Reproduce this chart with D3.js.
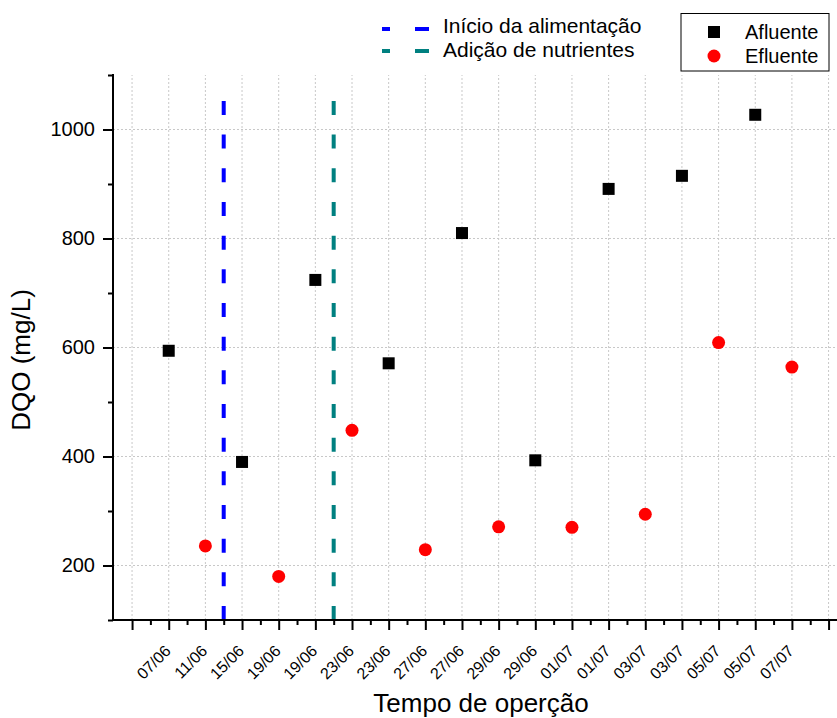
<!DOCTYPE html>
<html>
<head>
<meta charset="utf-8">
<script src="https://cdnjs.cloudflare.com/ajax/libs/d3/7.8.5/d3.min.js"></script>
<style>
  html, body { margin: 0; padding: 0; background: #fff; }
  svg { display: block; font-family: "Liberation Sans", Arial, sans-serif; }
</style>
</head>
<body>
<svg id="chart" width="837" height="718"></svg>
<script>
// ---- Data ----
const tickLabels = ["07/06","11/06","15/06","19/06","19/06","23/06","23/06","27/06","27/06",
                    "29/06","29/06","01/07","01/07","03/07","03/07","05/07","05/07","07/07"];
// positions on the x axis (tick index; labels start at index 1)
const afluenteX = [1, 3, 5, 7, 9, 11, 13, 15, 17];
const afluenteY = [594, 390, 724, 571, 810, 393, 891, 915, 1027];
const efluenteX = [2, 4, 6, 8, 10, 12, 14, 16, 18];
const efluenteY = [236, 180, 448, 229, 271, 270, 294, 609, 564];
const eventNames = ["Início da alimentação", "Adição de nutrientes"];
const eventX = [2.5, 5.5];
const eventTop = [1053, 1056];
const eventColors = ["#0000ff", "#008080"];
const yMajorTicks = [200, 400, 600, 800, 1000];
const yMinorTicks = [100, 300, 500, 700, 900, 1100];
const xMajorTicks = d3.range(0, 20);
const xMinorTicks = d3.range(0, 20).map(d => d + 0.5);

// ---- Scales ----
const svg = d3.select("#chart");
const x = d3.scaleLinear().domain([-0.52, 19.23]).range([113, 837]);
const y = d3.scaleLinear().domain([100, 1100]).range([620, 75]);
const FONT = '"Liberation Sans", Arial, sans-serif';

// ---- Grid ----
const grid = svg.append("g");
grid.selectAll("line.gx").data(xMajorTicks).join("line")
  .attr("x1", d => x(d)).attr("x2", d => x(d))
  .attr("y1", y(100)).attr("y2", y(1100))
  .attr("stroke", "#c8c8c8").attr("stroke-width", 1).attr("stroke-dasharray", "2,2");
grid.selectAll("line.gy").data(yMajorTicks).join("line")
  .attr("x1", x(-0.52)).attr("x2", 837)
  .attr("y1", d => y(d)).attr("y2", d => y(d))
  .attr("stroke", "#c8c8c8").attr("stroke-width", 1).attr("stroke-dasharray", "2,2");

// ---- Event lines ----
svg.selectAll("line.ev").data(eventX).join("line")
  .attr("x1", d => x(d)).attr("x2", d => x(d))
  .attr("y1", y(100)).attr("y2", (d, i) => y(eventTop[i]))
  .attr("stroke", (d, i) => eventColors[i]).attr("stroke-width", 4)
  .attr("stroke-dasharray", "14,19.67");

// ---- Axes ----
const xAxisMajor = d3.axisBottom(x).tickValues(xMajorTicks).tickSize(10).tickFormat("");
const xAxisMinor = d3.axisBottom(x).tickValues(xMinorTicks).tickSize(5).tickFormat("");
const gx = svg.append("g").attr("transform", `translate(0,${y(100)})`);
gx.append("g").call(xAxisMinor);
gx.append("g").call(xAxisMajor);
gx.selectAll(".domain").remove();
gx.selectAll("line").attr("stroke", "#000").attr("stroke-width", 2);
svg.append("line").attr("x1", x(-0.52) - 1).attr("x2", 837).attr("y1", y(100)).attr("y2", y(100))
  .attr("stroke", "#000").attr("stroke-width", 2);

// x tick labels
svg.append("g").selectAll("text").data(tickLabels).join("text")
  .attr("transform", (d, i) => `translate(${x(i + 1) + 3},${652}) rotate(-45)`)
  .attr("text-anchor", "end")
  .attr("font-family", FONT).attr("font-size", 16).attr("fill", "#000")
  .text(d => d);

const yAxisMajor = d3.axisLeft(y).tickValues(yMajorTicks).tickSize(10).tickPadding(8).tickFormat(d3.format("d"));
const yAxisMinor = d3.axisLeft(y).tickValues(yMinorTicks).tickSize(5).tickFormat("");
const gy = svg.append("g").attr("transform", `translate(${x(-0.52)},0)`);
gy.append("g").call(yAxisMinor);
gy.append("g").call(yAxisMajor);
gy.selectAll(".domain").remove();
gy.selectAll("line").attr("stroke", "#000").attr("stroke-width", 2);
gy.selectAll("text").attr("font-family", FONT).attr("font-size", 20).attr("fill", "#000");
svg.append("line").attr("x1", x(-0.52)).attr("x2", x(-0.52)).attr("y1", y(1100) - 1).attr("y2", y(100) + 1)
  .attr("stroke", "#000").attr("stroke-width", 2);

// ---- Points ----
svg.append("g").selectAll("rect").data(afluenteX).join("rect")
  .attr("x", d => x(d) - 6).attr("y", (d, i) => y(afluenteY[i]) - 6)
  .attr("width", 12).attr("height", 12).attr("fill", "#000");
svg.append("g").selectAll("circle").data(efluenteX).join("circle")
  .attr("cx", d => x(d)).attr("cy", (d, i) => y(efluenteY[i]))
  .attr("r", 6.5).attr("fill", "#ff0000");

// ---- Axis titles ----
svg.append("text").attr("x", 481).attr("y", 712).attr("text-anchor", "middle")
  .attr("font-family", FONT).attr("font-size", 26).text("Tempo de operção");
svg.append("text").attr("transform", "translate(30,360) rotate(-90)").attr("text-anchor", "middle")
  .attr("font-family", FONT).attr("font-size", 26).text("DQO (mg/L)");

// ---- Legend: event lines ----
const lg1 = svg.append("g");
const lgRows = [29, 51];
eventNames.forEach((name, i) => {
  lg1.append("line").attr("x1", 382).attr("x2", 429).attr("y1", lgRows[i]).attr("y2", lgRows[i])
    .attr("stroke", eventColors[i]).attr("stroke-width", 4).attr("stroke-dasharray", "8,25,14,100");
  lg1.append("text").attr("x", 443).attr("y", lgRows[i] + 4 + i * 2)
    .attr("font-family", FONT).attr("font-size", 21).text(name);
});

// ---- Legend: series ----
const lg2 = svg.append("g");
lg2.append("rect").attr("x", 681).attr("y", 13.5).attr("width", 148).attr("height", 57.5)
  .attr("fill", "#fff").attr("stroke", "#000").attr("stroke-width", 1);
lg2.append("rect").attr("x", 708).attr("y", 26).attr("width", 12).attr("height", 12).attr("fill", "#000");
lg2.append("circle").attr("cx", 714).attr("cy", 56).attr("r", 6.5).attr("fill", "#ff0000");
lg2.append("text").attr("x", 745).attr("y", 39).attr("font-family", FONT).attr("font-size", 20).text("Afluente");
lg2.append("text").attr("x", 745).attr("y", 63).attr("font-family", FONT).attr("font-size", 20).text("Efluente");
</script>
</body>
</html>
